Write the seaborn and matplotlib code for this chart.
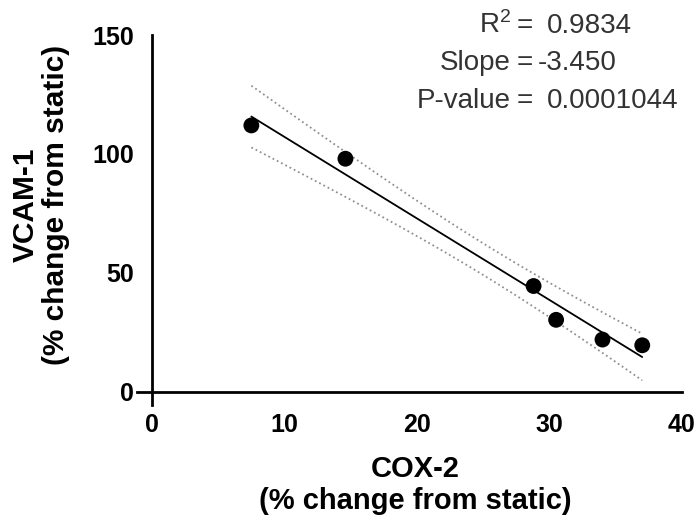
import numpy as np
import pandas as pd
import matplotlib
matplotlib.use('Agg')
import matplotlib.pyplot as plt
import seaborn as sns

# 数据
cox2 = [7.5, 14.6, 28.8, 30.5, 34.0, 37.0]
vcam1 = [112.0, 98.0, 44.5, 30.3, 22.0, 19.6]
stat_labels = ['R$^2$', 'Slope', 'P-value']
stat_values = ['0.9834', '-3.450', '0.0001044']

xticks = [0, 10, 20, 30, 40]
yticks = [0, 50, 100, 150]

sns.set_theme(style='white')
plt.rcParams['font.family'] = ['Liberation Sans', 'DejaVu Sans']
plt.rcParams['mathtext.fontset'] = 'custom'
plt.rcParams['mathtext.rm'] = 'Liberation Sans'
plt.rcParams['mathtext.it'] = 'Liberation Sans:italic'
plt.rcParams['mathtext.bf'] = 'Liberation Sans:bold'
plt.rcParams['text.color'] = 'black'
plt.rcParams['axes.labelcolor'] = 'black'
plt.rcParams['xtick.color'] = 'black'
plt.rcParams['ytick.color'] = 'black'

df = pd.DataFrame({'cox2': cox2, 'vcam1': vcam1})

W, H = 697, 521
fig = plt.figure(figsize=(W / 100, H / 100), dpi=100)
# 坐标轴位置（像素）
ax_l, ax_r, ax_t, ax_b = 137, 682, 35, 405
ax = fig.add_axes([ax_l / W, 1 - ax_b / H, (ax_r - ax_l) / W, (ax_b - ax_t) / H])

# 散点 + 回归线
sns.regplot(data=df, x='cox2', y='vcam1', ci=None, truncate=True, ax=ax,
            scatter_kws={'s': 130, 'color': 'black', 'alpha': 1, 'edgecolor': 'none', 'zorder': 3},
            line_kws={'color': 'black', 'lw': 1.3})

# 95% 置信带（虚线）
x = np.array(cox2)
y = np.array(vcam1)
n = len(x)
slope, intercept = np.polyfit(x, y, 1)
resid = y - (slope * x + intercept)
s = np.sqrt(np.sum(resid ** 2) / (n - 2))
t_crit = 2.776  # t(0.975, df=4)
xs = np.linspace(x.min(), x.max(), 100)
se = s * np.sqrt(1 / n + (xs - x.mean()) ** 2 / np.sum((x - x.mean()) ** 2))
fit = slope * xs + intercept
ax.plot(xs, fit + t_crit * se, color='#909090', lw=1.3, ls=':')
ax.plot(xs, fit - t_crit * se, color='#909090', lw=1.3, ls=':')

# 坐标轴样式（类似 Prism）
ax.set_xlim(-1.13, 40)
ax.set_ylim(-5.5, 150)
ax.set_xticks(xticks)
ax.set_yticks(yticks)
ax.spines['top'].set_visible(False)
ax.spines['right'].set_visible(False)
ax.spines['left'].set_position(('data', 0))
ax.spines['bottom'].set_position(('data', 0))
for sp in ['left', 'bottom']:
    ax.spines[sp].set_linewidth(2)
    ax.spines[sp].set_color('black')
ax.tick_params(axis='both', which='major', length=9, width=2, color='black',
               labelcolor='black', labelsize=18, direction='out')
ax.tick_params(axis='x', pad=6)
ax.tick_params(axis='y', pad=4)
for lab in ax.get_xticklabels() + ax.get_yticklabels():
    lab.set_fontweight('bold')

ax.set_xlabel('COX-2\n(% change from static)', fontsize=21, fontweight='bold', color='black',
              linespacing=1.15, va='center', ha='center')
ax.xaxis.set_label_coords((415 - ax_l) / (ax_r - ax_l), (ax_b - 485) / (ax_b - ax_t))
ax.set_ylabel('VCAM-1\n(% change from static)', fontsize=21.5, fontweight='bold', color='black',
              linespacing=1.1, va='center', ha='center')
ax.yaxis.set_label_coords((41 - ax_l) / (ax_r - ax_l), (ax_b - 205) / (ax_b - ax_t))

# 统计信息
baselines = [33, 70, 108]
value_x = [547, 538, 547]
for lab, val, yb, vx in zip(stat_labels, stat_values, baselines, value_x):
    fig.text(511 / W, 1 - yb / H, lab, ha='right', va='baseline', fontsize=20, color='#333333')
    fig.text(525 / W, 1 - yb / H, '=', ha='center', va='baseline', fontsize=20, color='#333333')
    fig.text(vx / W, 1 - yb / H, val, ha='left', va='baseline', fontsize=20, color='#333333')

fig.savefig('out.png', dpi=100)
